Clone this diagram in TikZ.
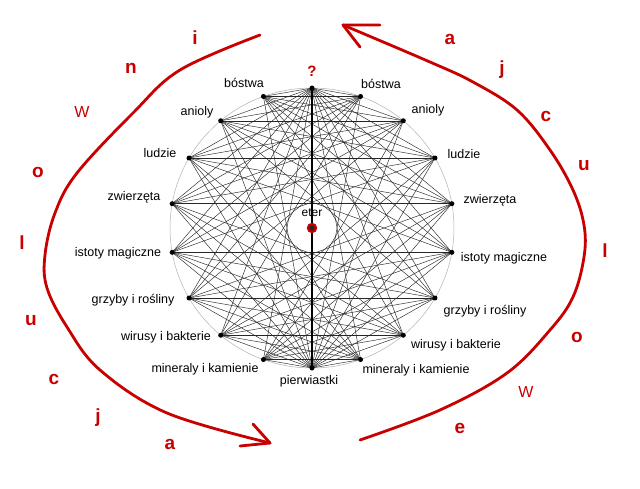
\documentclass[tikz,border=0pt]{standalone}
\usepackage{fontspec}
\setmainfont{Liberation Sans}
\definecolor{evored}{RGB}{200,0,0}
\tikzset{
  lbl/.style={font=\fontsize{12.5}{14}\selectfont, inner sep=0pt},
  redletter/.style={text=evored, font=\fontsize{19}{20}\selectfont\bfseries, inner sep=0pt},
  redw/.style={text=evored, font=\fontsize{16}{18}\selectfont, inner sep=0pt},
  chord/.style={black!85, line width=0.45pt},
  redarc/.style={evored, line width=2.8pt, line cap=round, line join=round},
  dot/.style={circle, fill=black, inner sep=0pt, minimum size=5pt},
}
\begin{document}
\begin{tikzpicture}[x=1pt,y=-1pt]
\useasboundingbox[fill=white] (0,0) rectangle (640,488);
% outer circle
\draw[gray!60, line width=0.5pt] (312,228) ellipse [x radius=142, y radius=140];
% points
\foreach \k in {0,...,17}{
  \coordinate (p\k) at ({312+142*cos(90+20*\k)},{228-140*sin(90+20*\k)});
}
% chords: every left point to every right point (no diameters)
\foreach \i in {1,...,8}{
  \foreach \j in {10,...,17}{
    \pgfmathtruncatemacro{\d}{\j-\i}
    \ifnum\d=9 \else \draw[chord] (p\i) -- (p\j); \fi
  }
}
% top and bottom to every side point
\foreach \k in {1,...,8,10,11,...,17}{
  \draw[chord] (p0) -- (p\k);
  \draw[chord] (p9) -- (p\k);
}
\draw[line width=2.5pt] (p0) -- (p9);
\foreach \k in {0,...,17}{ \node[dot] (d\k) at (p\k) {}; }
% centre
\node[circle, draw=evored, line width=2.3pt, fill=black!85, minimum size=8pt, inner sep=0pt] (eterdot) at (312,228) {};
\node[lbl, font=\fontsize{12}{14}\selectfont] (eter) at (312,213) {eter};
% labels
\node[text=evored, font=\fontsize{15}{16}\selectfont\bfseries, inner sep=0pt] (q) at (312,71) {?};
\node[lbl] (l1) at (244,83) {bóstwa};
\node[lbl] (r1) at (381,84) {bóstwa};
\node[lbl] (l2) at (197,112) {anioly};
\node[lbl] (r2) at (428,110) {anioly};
\node[lbl] (l3) at (160,153) {ludzie};
\node[lbl] (r3) at (464,154) {ludzie};
\node[lbl] (l4) at (134,197) {zwierzęta};
\node[lbl] (r4) at (490,200) {zwierzęta};
\node[lbl] (l5) at (118,253) {istoty magiczne};
\node[lbl] (r5) at (504,258) {istoty magiczne};
\node[lbl] (l6) at (133,300) {grzyby i rośliny};
\node[lbl] (r6) at (485,311) {grzyby i rośliny};
\node[lbl] (l7) at (166,337) {wirusy i bakterie};
\node[lbl] (r7) at (456,345) {wirusy i bakterie};
\node[lbl] (l8) at (205,369) {mineraly i kamienie};
\node[lbl] (r8) at (416,370) {mineraly i kamienie};
\node[lbl] (l9) at (309,381) {pierwiastki};
% red arcs
\coordinate (tipL) at (270,443);
\coordinate (wL1) at (253,424);
\coordinate (wL2) at (240,446);
\draw[redarc] plot[smooth, tension=0.6] coordinates {(260,35) (180,70) (133,113) (77,173) (55,213) (45,255) (47,288) (67,327) (100,370) (167,413) (270,443)};
\draw[redarc] (wL1) -- (tipL) -- (wL2);
\coordinate (tipR) at (343,25);
\coordinate (wR1) at (380,25);
\coordinate (wR2) at (360,47);
\draw[redarc] plot[smooth, tension=0.6] coordinates {(360,440) (440,410) (507,373) (550,330) (573,297) (584,257) (584,225) (573,190) (550,150) (517,110) (473,82) (430,62) (343,25)};
\draw[redarc] (wR1) -- (tipR) -- (wR2);
% letters left: inwolucja
\node[redletter] (a1) at (195,38) {i};
\node[redletter] (a2) at (131,68) {n};
\node[redw] (a3) at (82,112) {W};
\node[redletter] (a4) at (38,172) {o};
\node[redletter] (a5) at (22,243) {l};
\node[redletter] (a6) at (31,321) {u};
\node[redletter] (a7) at (54,379) {c};
\node[redletter] (a8) at (98,418) {j};
\node[redletter] (a9) at (170,444) {a};
% letters right: ewolucja
\node[redletter] (b1) at (450,39) {a};
\node[redletter] (b2) at (502,70) {j};
\node[redletter] (b3) at (546,116) {c};
\node[redletter] (b4) at (584,166) {u};
\node[redletter] (b5) at (605,251) {l};
\node[redletter] (b6) at (577,337) {o};
\node[redw] (b7) at (526,392) {W};
\node[redletter] (b8) at (460,428) {e};
\end{tikzpicture}
\end{document}
